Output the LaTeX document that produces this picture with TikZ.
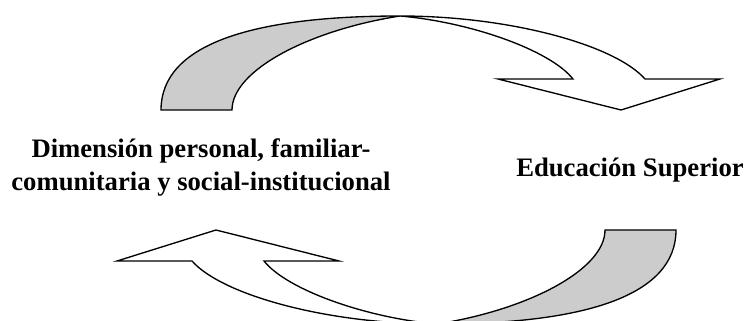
\documentclass[tikz,border=0pt]{standalone}
\usepackage{fontspec}
\setmainfont{Liberation Serif}
\usepackage{tikz}
\usetikzlibrary{positioning}

\begin{document}
\begin{tikzpicture}[x=0.6pt,y=-0.6pt,line width=0.8pt,line join=miter,
    band/.style={draw=black,fill=black!20},
    front/.style={draw=black,fill=white},
    label/.style={font=\fontsize{16}{20}\selectfont\bfseries,align=center,inner sep=0pt}]
            \useasboundingbox (0,0) rectangle (747,321);
            % upper arrow
            \draw[band] (161,110) .. controls (161,45) and (250,16) .. (400,16)
                .. controls (310,30) and (232,70) .. (232,110) -- cycle;
            \draw[front] (400,16) .. controls (510,16) and (615,45) .. (645,79)
                -- (720,79) -- (621,110) -- (498,79) -- (573,79)
                .. controls (550,50) and (470,22) .. (400,16) -- cycle;
            % lower arrow, same shape turned round
            \begin{scope}[rotate around={180:(418.5,170)}]
            \draw[band] (161,110) .. controls (161,45) and (250,16) .. (400,16)
                .. controls (310,30) and (232,70) .. (232,110) -- cycle;
            \draw[front] (400,16) .. controls (510,16) and (615,45) .. (645,79)
                -- (720,79) -- (621,110) -- (498,79) -- (573,79)
                .. controls (550,50) and (470,22) .. (400,16) -- cycle;
            \end{scope}
            \node[label,anchor=base] (dim) at (201,191) {Dimensión personal, familiar-\\comunitaria y social-institucional};
            \node[label,anchor=base] (edu) at (630,177) {Educación Superior};
        \end{tikzpicture}
\end{document}
